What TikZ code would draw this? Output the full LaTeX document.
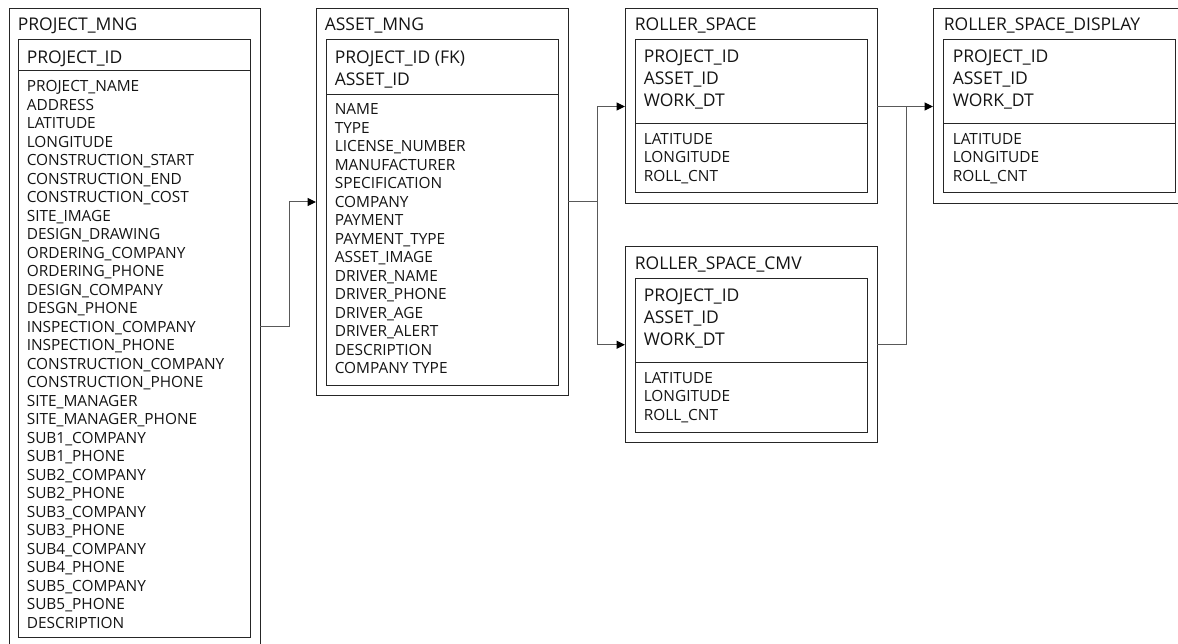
\documentclass[tikz,border=0pt]{standalone}
\usepackage{fontspec}
\setmainfont{Open Sans}
\usetikzlibrary{arrows.meta,calc}
\begin{document}
\begin{tikzpicture}[x=1pt,y=-1pt,
  frame/.style={draw=black!85, line width=1pt, inner sep=0pt, outer sep=0pt, anchor=north west},
  sepline/.style={draw=black!85, line width=1pt},
  ttl/.style={anchor=base west, inner sep=0pt, font=\fontsize{17.5}{20}\selectfont, text=black!92},
  keytxt/.style={anchor=base west, inner sep=0pt, font=\fontsize{17.5}{22}\selectfont, text=black!92},
  fld/.style={anchor=base west, inner sep=0pt, font=\fontsize{15.4}{18.5}\selectfont, text=black!92, align=left},
  conn/.style={draw=black!65, line width=1pt},
  arr/.style={conn, -{Triangle[length=8.5pt,width=8pt,color=black]}}]
\clip (0,0) rectangle (1178,644);
\useasboundingbox (0,0) rectangle (1178,644);

% ---------- PROJECT_MNG ----------
\node[frame, minimum width=251pt, minimum height=637pt] (pm) at (9,9) {};
\node[frame, minimum width=232pt, minimum height=597pt] (pmi) at (18,40) {};
\draw[sepline] (18,71) -- (250,71);
\node[ttl] (pmt) at (17.6,31) {PROJECT\_MNG};
\node[keytxt] (pmk) at (26.6,63.5) {PROJECT\_ID};
\node[fld, anchor=north west] (pmf) at (26.6,80.5) {PROJECT\_NAME\\ADDRESS\\LATITUDE\\LONGITUDE\\CONSTRUCTION\_START\\CONSTRUCTION\_END\\CONSTRUCTION\_COST\\SITE\_IMAGE\\DESIGN\_DRAWING\\ORDERING\_COMPANY\\ORDERING\_PHONE\\DESIGN\_COMPANY\\DESGN\_PHONE\\INSPECTION\_COMPANY\\INSPECTION\_PHONE\\CONSTRUCTION\_COMPANY\\CONSTRUCTION\_PHONE\\SITE\_MANAGER\\SITE\_MANAGER\_PHONE\\SUB1\_COMPANY\\SUB1\_PHONE\\SUB2\_COMPANY\\SUB2\_PHONE\\SUB3\_COMPANY\\SUB3\_PHONE\\SUB4\_COMPANY\\SUB4\_PHONE\\SUB5\_COMPANY\\SUB5\_PHONE\\DESCRIPTION};

% ---------- ASSET_MNG ----------
\node[frame, minimum width=252pt, minimum height=386pt] (am) at (316,9) {};
\node[frame, minimum width=232pt, minimum height=345pt] (ami) at (326,40) {};
\draw[sepline] (326,95) -- (558,95);
\node[ttl] (amt) at (324.6,31) {ASSET\_MNG};
\node[keytxt] (amk1) at (334.6,64) {PROJECT\_ID (FK)};
\node[keytxt] (amk2) at (334.6,86) {ASSET\_ID};
\node[fld, anchor=north west] (amf) at (334.6,103.5) {NAME\\TYPE\\LICENSE\_NUMBER\\MANUFACTURER\\SPECIFICATION\\COMPANY\\PAYMENT\\PAYMENT\_TYPE\\ASSET\_IMAGE\\DRIVER\_NAME\\DRIVER\_PHONE\\DRIVER\_AGE\\DRIVER\_ALERT\\DESCRIPTION\\COMPANY TYPE};

% ---------- ROLLER_SPACE ----------
\node[frame, minimum width=252pt, minimum height=195pt] (rs) at (625,9) {};
\node[frame, minimum width=232pt, minimum height=153pt] (rsi) at (635,40) {};
\draw[sepline] (635,124) -- (867,124);
\node[ttl] (rst) at (634.6,31) {ROLLER\_SPACE};
\node[keytxt] (rsk1) at (643.6,62.7) {PROJECT\_ID};
\node[keytxt] (rsk2) at (643.6,84.7) {ASSET\_ID};
\node[keytxt] (rsk3) at (643.6,106.7) {WORK\_DT};
\node[fld, anchor=north west] (rsf) at (643.6,133) {LATITUDE\\LONGITUDE\\ROLL\_CNT};

% ---------- ROLLER_SPACE_CMV ----------
\node[frame, minimum width=252pt, minimum height=195.5pt] (cmv) at (625,247) {};
\node[frame, minimum width=232pt, minimum height=153.5pt] (cmvi) at (635,279) {};
\draw[sepline] (635,362.5) -- (867,362.5);
\node[ttl] (cmvt) at (634.6,270) {ROLLER\_SPACE\_CMV};
\node[keytxt] (cmvk1) at (643.6,301.7) {PROJECT\_ID};
\node[keytxt] (cmvk2) at (643.6,323.7) {ASSET\_ID};
\node[keytxt] (cmvk3) at (643.6,345.7) {WORK\_DT};
\node[fld, anchor=north west] (cmvf) at (643.6,372) {LATITUDE\\LONGITUDE\\ROLL\_CNT};

% ---------- ROLLER_SPACE_DISPLAY ----------
\node[frame, minimum width=257pt, minimum height=195pt] (ds) at (933,9) {};
\node[frame, minimum width=232pt, minimum height=153pt] (dsi) at (943,40) {};
\draw[sepline] (943,124) -- (1175,124);
\node[ttl] (dst) at (943.6,31) {ROLLER\_SPACE\_DISPLAY};
\node[keytxt] (dsk1) at (952.6,62.7) {PROJECT\_ID};
\node[keytxt] (dsk2) at (952.6,84.7) {ASSET\_ID};
\node[keytxt] (dsk3) at (952.6,106.7) {WORK\_DT};
\node[fld, anchor=north west] (dsf) at (952.6,133) {LATITUDE\\LONGITUDE\\ROLL\_CNT};

% ---------- connectors ----------
\coordinate (j1) at ($(pm.east|-0,327)+(29,0)$);
\draw[arr] (pm.east|-0,327) -- (j1) |- (am.west);
\coordinate (j2) at ($(am.east)+(29,0)$);
\draw[arr] (am.east) -- (j2) |- (rs.west);
\draw[arr] (j2) |- (cmv.west);
\coordinate (j3) at ($(rs.east)+(29,0)$);
\draw[arr] (rs.east) -- (ds.west|-rs.east);
\draw[conn] (cmv.east) -| (j3);
\end{tikzpicture}
\end{document}
